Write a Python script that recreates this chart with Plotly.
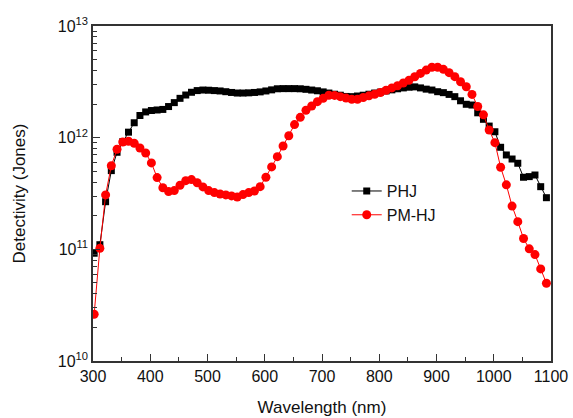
import plotly.graph_objects as go

# Wavelength (nm)
wavelength = [302 + 10 * i for i in range(80)]

# Detectivity (Jones) - PHJ
phj = [
    9.23e10, 1.10e11, 2.67e11, 5.07e11, 7.40e11, 9.20e11, 1.12e12, 1.36e12, 1.58e12, 1.70e12,
    1.75e12, 1.77e12, 1.79e12, 1.90e12, 2.06e12, 2.25e12, 2.41e12, 2.55e12, 2.64e12, 2.67e12,
    2.66e12, 2.64e12, 2.62e12, 2.58e12, 2.54e12, 2.51e12, 2.51e12, 2.52e12, 2.54e12, 2.57e12,
    2.62e12, 2.68e12, 2.74e12, 2.75e12, 2.75e12, 2.75e12, 2.74e12, 2.71e12, 2.67e12, 2.63e12,
    2.57e12, 2.51e12, 2.45e12, 2.40e12, 2.34e12, 2.33e12, 2.36e12, 2.40e12, 2.45e12, 2.51e12,
    2.56e12, 2.62e12, 2.68e12, 2.74e12, 2.79e12, 2.83e12, 2.85e12, 2.79e12, 2.72e12, 2.67e12,
    2.58e12, 2.53e12, 2.44e12, 2.33e12, 2.14e12, 1.99e12, 1.96e12, 1.67e12, 1.46e12, 1.27e12,
    1.13e12, 8.20e11, 7.00e11, 6.44e11, 5.90e11, 4.42e11, 4.48e11, 4.63e11, 3.64e11, 2.90e11,
]

# Detectivity (Jones) - PM-HJ
pmhj = [
    2.62e10, 1.02e11, 3.07e11, 5.61e11, 7.87e11, 9.14e11, 9.29e11, 8.91e11, 8.09e11, 7.29e11,
    5.94e11, 4.39e11, 3.56e11, 3.29e11, 3.36e11, 3.75e11, 4.12e11, 4.21e11, 3.95e11, 3.62e11,
    3.36e11, 3.22e11, 3.13e11, 3.07e11, 3.01e11, 2.94e11, 3.09e11, 3.22e11, 3.33e11, 3.64e11,
    4.42e11, 5.47e11, 6.76e11, 8.43e11, 1.04e12, 1.31e12, 1.52e12, 1.76e12, 1.92e12, 2.10e12,
    2.25e12, 2.40e12, 2.39e12, 2.33e12, 2.26e12, 2.21e12, 2.21e12, 2.29e12, 2.37e12, 2.45e12,
    2.54e12, 2.66e12, 2.79e12, 2.92e12, 3.09e12, 3.27e12, 3.51e12, 3.76e12, 4.03e12, 4.27e12,
    4.27e12, 4.09e12, 3.82e12, 3.52e12, 3.17e12, 2.86e12, 2.44e12, 1.90e12, 1.60e12, 1.17e12,
    9.02e11, 5.43e11, 3.78e11, 2.44e11, 1.77e11, 1.25e11, 1.01e11, 8.97e10, 6.68e10, 4.97e10,
]

x_ticks = [300, 400, 500, 600, 700, 800, 900, 1000, 1100]
x_minor = [350, 450, 550, 650, 750, 850, 950, 1050]
y_ticks = [1e10, 1e11, 1e12, 1e13]
y_ticktext = ["10<sup>10</sup>", "10<sup>11</sup>", "10<sup>12</sup>", "10<sup>13</sup>"]
y_minor = [m * 10 ** e for e in (10, 11, 12) for m in range(2, 10)]

FONT = "Liberation Sans, Arial, sans-serif"

fig = go.Figure()
fig.add_trace(go.Scatter(
    x=wavelength, y=phj, name="PHJ", mode="lines+markers",
    line=dict(color="#000000", width=1),
    marker=dict(symbol="square", size=7, color="#000000"),
))
fig.add_trace(go.Scatter(
    x=wavelength, y=pmhj, name="PM-HJ", mode="lines+markers",
    line=dict(color="#ff0000", width=1),
    marker=dict(symbol="circle", size=9, color="#ff0000"),
))

axis_common = dict(
    showline=True, linecolor="#333333", linewidth=1.5, mirror=True,
    ticks="inside", ticklen=7, tickwidth=1.2, tickcolor="#333333",
    showgrid=False, zeroline=False, automargin=False,
    tickfont=dict(family=FONT, size=16, color="#111111"),
)

fig.update_layout(
    width=573, height=418,
    margin=dict(l=93, r=22, t=26, b=57),
    paper_bgcolor="white", plot_bgcolor="white",
    font=dict(family=FONT, size=16, color="#111111"),
    showlegend=True,
    legend=dict(
        x=0.554, y=0.558, xanchor="left", yanchor="top",
        bgcolor="rgba(0,0,0,0)", borderwidth=0,
        font=dict(family=FONT, size=16, color="#111111"),
        tracegroupgap=0, itemwidth=30,
    ),
    xaxis=dict(
        range=[300, 1100], tickvals=x_ticks,
        minor=dict(tickmode="array", tickvals=x_minor, ticks="inside", ticklen=4, tickcolor="#333333"),
        title=dict(text="Wavelength (nm)", font=dict(family=FONT, size=17, color="#111111"), standoff=17),
        **axis_common,
    ),
    yaxis=dict(
        type="log", range=[10, 13], tickvals=y_ticks, ticktext=y_ticktext,
        minor=dict(tickmode="array", tickvals=y_minor, ticks="inside", ticklen=4, tickcolor="#333333"),
        title=dict(text="Detectivity (Jones)", font=dict(family=FONT, size=17, color="#111111"), standoff=28),
        **axis_common,
    ),
)

fig.write_html(
    "out.html",
    config={"displayModeBar": False},
    post_script="document.body.style.margin='0px';document.body.style.overflow='hidden';",
)
